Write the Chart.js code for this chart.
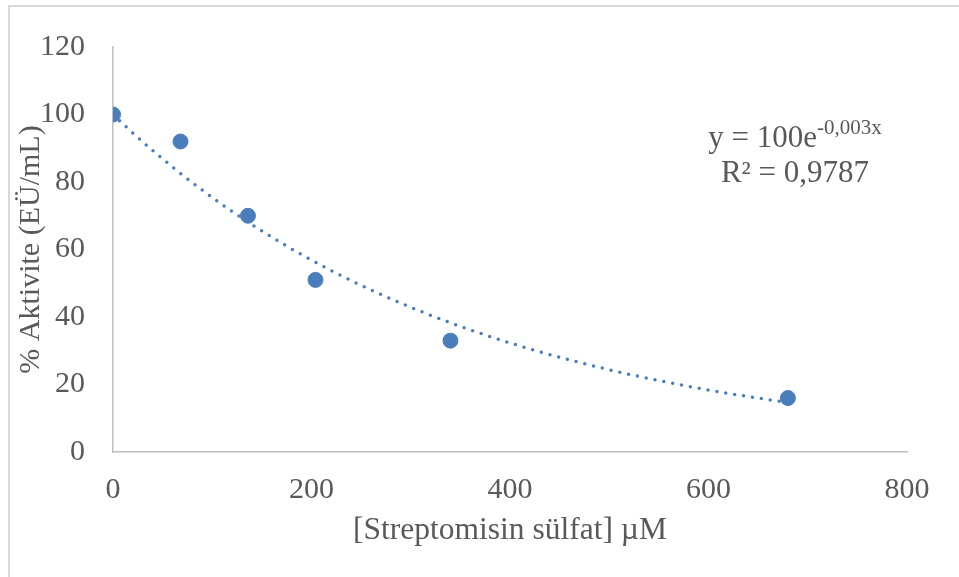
<!DOCTYPE html>
<html>
<head>
<meta charset="utf-8">
<script src="https://cdn.jsdelivr.net/npm/chart.js@4.4.0/dist/chart.umd.min.js"></script>
<style>
  html, body { margin: 0; padding: 0; background: #fff; overflow: hidden; }
  #frame { position: absolute; left: 8px; top: 5px; width: 1000px; height: 1000px;
           border-left: 2px solid #d9d9d9; border-top: 2px solid #d9d9d9; }
  #wrap { position: absolute; left: 0; top: 0; width: 959px; height: 577px; }
</style>
</head>
<body>
<div id="frame"></div>
<div id="wrap"><canvas id="chart" width="959" height="577"></canvas></div>
<script>
// data
const concentrations = [0, 68, 136, 204, 340, 680];
const activity = [100, 92, 70, 51, 33, 16];
const xTickValues = [0, 200, 400, 600, 800];
const yTickValues = [0, 20, 40, 60, 80, 100, 120];
const equationBase = 'y = 100e';
const equationExp = '-0,003x';
const rSquaredText = 'R² = 0,9787';

const serif = '"Liberation Serif", "Times New Roman", serif';
const textColor = '#595959';
const pointColor = '#4a7ebb';

// exponential trendline, intercept fixed at 100 (least squares on ln y)
let sxy = 0, sxx = 0;
concentrations.forEach((x, i) => {
	sxy += x * (Math.log(activity[i]) - Math.log(100));
	sxx += x * x;
});
const rate = sxy / sxx;
const trend = [];
const xEnd = concentrations[concentrations.length - 1];
for (let x = 0; x <= xEnd; x += 10) trend.push({ x, y: 100 * Math.exp(rate * x) });

const points = concentrations.map((x, i) => ({ x, y: activity[i] }));

const equationLabel = {
	id: 'equationLabel',
	afterDraw(chart) {
		const ctx = chart.ctx;
		ctx.save();
		ctx.fillStyle = textColor;
		ctx.textBaseline = 'alphabetic';
		ctx.textAlign = 'left';
		const cx = 795;
		ctx.font = '31px ' + serif;
		const w1 = ctx.measureText(equationBase).width;
		ctx.font = '21px ' + serif;
		const w2 = ctx.measureText(equationExp).width;
		let x0 = cx - (w1 + w2) / 2;
		ctx.font = '31px ' + serif;
		ctx.fillText(equationBase, x0, 147);
		ctx.font = '21px ' + serif;
		ctx.fillText(equationExp, x0 + w1, 134);
		ctx.font = '31px ' + serif;
		ctx.textAlign = 'center';
		ctx.fillText(rSquaredText, cx, 182);
		ctx.restore();
	}
};

const ctx = document.getElementById('chart').getContext('2d');
new Chart(ctx, {
	type: 'scatter',
	data: {
		datasets: [
			{
				type: 'line',
				data: trend,
				borderColor: pointColor,
				borderWidth: 3.5,
				borderDash: [0, 9],
				borderCapStyle: 'round',
				pointRadius: 0,
				fill: false,
				tension: 0
			},
			{
				data: points,
				backgroundColor: pointColor,
				borderColor: pointColor,
				pointRadius: 7.5,
				pointHoverRadius: 7.5
			}
		]
	},
	options: {
		responsive: false,
		animation: false,
		devicePixelRatio: 1,
		layout: { padding: { top: 47, right: 52, bottom: 0, left: 0 } },
		plugins: { legend: { display: false }, tooltip: { enabled: false } },
		scales: {
			x: {
				type: 'linear',
				min: 0,
				max: 800,
				afterBuildTicks: (scale) => { scale.ticks = xTickValues.map(v => ({ value: v })); },
				afterFit: (scale) => { scale.height = 125; },
				grid: { display: false },
				border: { display: true, color: '#c0c0c0', width: 1.5 },
				ticks: { color: textColor, font: { family: serif, size: 30 }, padding: 12 },
				title: {
					display: true,
					text: '[Streptomisin sülfat] µM',
					color: textColor,
					font: { family: serif, size: 31.5 },
					padding: { top: 0, bottom: 27 }
				}
			},
			y: {
				min: 0,
				max: 120,
				afterBuildTicks: (scale) => { scale.ticks = yTickValues.map(v => ({ value: v })); },
				afterFit: (scale) => { scale.width = 113; },
				grid: { display: false },
				border: { display: true, color: '#c0c0c0', width: 1.5 },
				ticks: { color: textColor, font: { family: serif, size: 30 }, padding: 20 },
				title: {
					display: true,
					text: '% Aktivite (EÜ/mL)',
					color: textColor,
					font: { family: serif, size: 30 },
					padding: { top: 13, bottom: 0 }
				}
			}
		}
	},
	plugins: [equationLabel]
});
</script>
</body>
</html>
